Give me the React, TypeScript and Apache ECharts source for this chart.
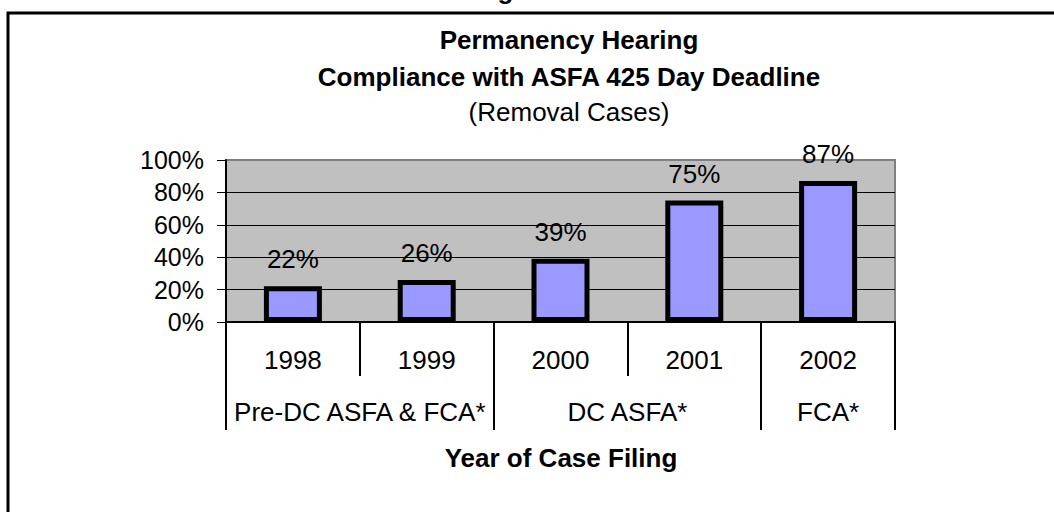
import React, { useEffect, useRef } from 'react';
import * as echarts from 'echarts';

const years = ['1998', '1999', '2000', '2001', '2002'];
const compliance = [22, 26, 39, 75, 87];
const periodNames = ['Pre-DC ASFA & FCA*', 'DC ASFA*', 'FCA*'];
const periodSpans = [2, 2, 1];
const titleLines = ['Permanency Hearing', 'Compliance with ASFA 425 Day Deadline'];
const subtitle = '(Removal Cases)';
const axisTitle = 'Year of Case Filing';
const figureLabel = 'Figure 6';

const FONT = '"Liberation Sans", Arial, Helvetica, sans-serif';

export default function App() {
  const ref = useRef<HTMLDivElement>(null);

  useEffect(() => {
    if (!ref.current) return;
    const chart = echarts.init(ref.current, null, { renderer: 'svg' });

    const bounds: number[] = [0];
    periodSpans.forEach((s) => bounds.push(bounds[bounds.length - 1] + s));
    const centers = periodSpans.map((s, i) => bounds[i] + s / 2);

    const fs = 26;
    const yfs = 25;

    chart.setOption({
      animation: false,
      backgroundColor: '#ffffff',
      textStyle: { fontFamily: FONT },
      grid: {
        left: 226,
        top: 160,
        width: 669,
        height: 162,
        show: true,
        backgroundColor: '#C0C0C0',
        borderColor: '#808080',
        borderWidth: 2,
        containLabel: false,
      },
      xAxis: [
        {
          type: 'category',
          data: years,
          position: 'bottom',
          boundaryGap: true,
          axisLine: { show: true, lineStyle: { color: '#000', width: 2 } },
          axisTick: {
            show: true,
            interval: 0,
            alignWithLabel: false,
            length: 54,
            lineStyle: { color: '#000', width: 2 },
          },
          axisLabel: {
            interval: 0,
            margin: 25,
            fontSize: fs,
            color: '#000',
            fontFamily: FONT,
          },
          splitLine: { show: false },
        },
        {
          type: 'value',
          min: 0,
          max: bounds[bounds.length - 1],
          position: 'bottom',
          axisLine: { show: false },
          axisTick: {
            show: true,
            customValues: bounds,
            length: 108,
            lineStyle: { color: '#000', width: 2 },
          },
          axisLabel: {
            show: true,
            customValues: centers,
            margin: 77,
            fontSize: fs,
            color: '#000',
            fontFamily: FONT,
            formatter: (v: number) => {
              let best = 0;
              centers.forEach((c, i) => {
                if (Math.abs(c - v) < Math.abs(centers[best] - v)) best = i;
              });
              return periodNames[best];
            },
          },
          splitLine: { show: false },
        },
      ],
      yAxis: {
        type: 'value',
        min: 0,
        max: 100,
        interval: 20,
        axisLine: { show: true, lineStyle: { color: '#000', width: 2 } },
        axisTick: { show: true, length: 9, lineStyle: { color: '#000', width: 1 } },
        axisLabel: {
          formatter: '{value}%',
          margin: 22,
          fontSize: yfs,
          color: '#000',
          fontFamily: FONT,
        },
        splitLine: {
          show: true,
          showMinLine: false,
          showMaxLine: false,
          lineStyle: { color: '#000', width: 1 },
        },
      },
      series: [
        {
          type: 'bar',
          xAxisIndex: 0,
          data: compliance,
          barWidth: 58,
          itemStyle: { color: '#9999FF', borderColor: '#000', borderWidth: 5 },
          label: {
            show: true,
            position: 'top',
            distance: 14,
            formatter: '{c}%',
            fontSize: fs,
            color: '#000',
            fontFamily: FONT,
          },
        },
      ],
      graphic: [
        {
          type: 'rect',
          z: -10,
          shape: { x: 8, y: 13, width: 1200, height: 700 },
          style: { fill: 'none', stroke: '#000', lineWidth: 3 },
        },
        {
          type: 'text',
          x: 525,
          y: -10,
          style: {
            text: figureLabel,
            fontSize: 26,
            fontWeight: 'bold',
            fontFamily: FONT,
            fill: '#000',
            align: 'center',
            verticalAlign: 'middle',
          },
        },
        {
          type: 'text',
          x: 569,
          y: 40,
          style: {
            text: titleLines[0],
            fontSize: fs,
            fontWeight: 'bold',
            fontFamily: FONT,
            fill: '#000',
            align: 'center',
            verticalAlign: 'middle',
          },
        },
        {
          type: 'text',
          x: 569,
          y: 77,
          style: {
            text: titleLines[1],
            fontSize: fs,
            fontWeight: 'bold',
            fontFamily: FONT,
            fill: '#000',
            align: 'center',
            verticalAlign: 'middle',
          },
        },
        {
          type: 'text',
          x: 569,
          y: 112,
          style: {
            text: subtitle,
            fontSize: fs,
            fontFamily: FONT,
            fill: '#000',
            align: 'center',
            verticalAlign: 'middle',
          },
        },
        {
          type: 'text',
          x: 561,
          y: 458,
          style: {
            text: axisTitle,
            fontSize: fs,
            fontWeight: 'bold',
            fontFamily: FONT,
            fill: '#000',
            align: 'center',
            verticalAlign: 'middle',
          },
        },
      ],
    });

    return () => chart.dispose();
  }, []);

  return (
    <div
      ref={ref}
      style={{ position: 'fixed', left: 0, top: 0, width: 1054, height: 512 }}
    />
  );
}
